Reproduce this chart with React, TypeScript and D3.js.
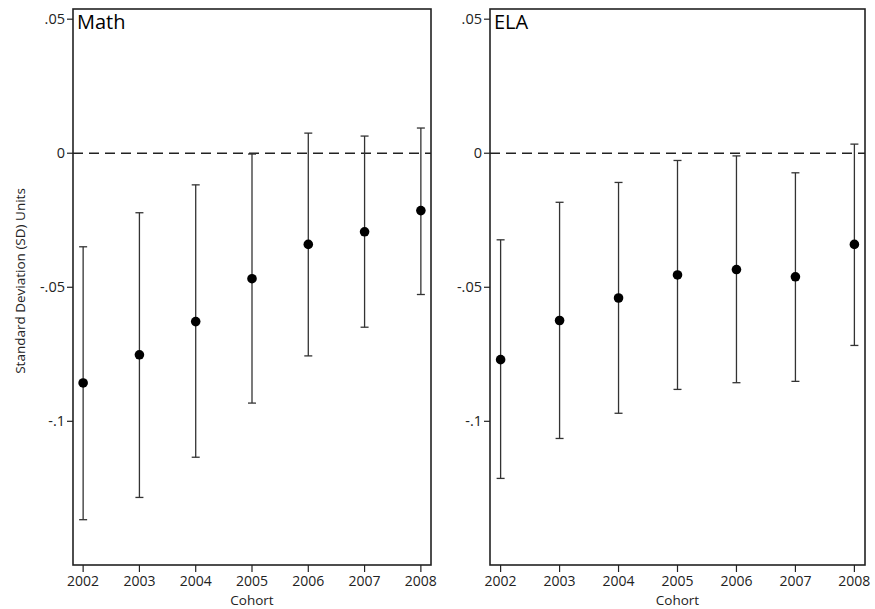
import * as d3 from 'd3';
import React from 'react';

const cohorts = [2002, 2003, 2004, 2005, 2006, 2007, 2008];

const mathEst = [-0.0857, -0.0752, -0.0628, -0.0468, -0.034, -0.0293, -0.0214];
const mathLo = [-0.1367, -0.1284, -0.1134, -0.0932, -0.0756, -0.0649, -0.0527];
const mathHi = [-0.0349, -0.0222, -0.0118, -0.0003, 0.0075, 0.0064, 0.0094];

const elaEst = [-0.077, -0.0624, -0.054, -0.0454, -0.0434, -0.0461, -0.034];
const elaLo = [-0.1213, -0.1064, -0.097, -0.0881, -0.0856, -0.0851, -0.0717];
const elaHi = [-0.0323, -0.0183, -0.0109, -0.0027, -0.001, -0.0073, 0.0034];

const yTicks = [0.05, 0, -0.05, -0.1];
const yTickLabels = ['.05', '0', '-.05', '-.1'];

const FONT = '"Open Sans", "DejaVu Sans", sans-serif';
const INK = '#222';

const W = 875;
const H = 609;
const top = 9;
const bottom = 565;

const y = d3.scaleLinear().domain([-0.1536, 0.0538]).range([bottom, top]);

interface PanelProps {
  title: string;
  left: number;
  right: number;
  est: number[];
  lo: number[];
  hi: number[];
}

const Panel = ({ title, left, right, est, lo, hi }: PanelProps) => {
  const x = d3.scaleLinear().domain([2001.82, 2008.18]).range([left, right]);
  const cap = 4;
  return (
    <g>
      {/* zero reference */}
      <line
        x1={left}
        x2={right}
        y1={y(0)}
        y2={y(0)}
        stroke={INK}
        strokeWidth={1.3}
        strokeDasharray="10,6"
      />
      {cohorts.map((c, i) => (
        <g key={c}>
          <line x1={x(c)} x2={x(c)} y1={y(lo[i])} y2={y(hi[i])} stroke="#333" strokeWidth={1.3} />
          <line x1={x(c) - cap} x2={x(c) + cap} y1={y(lo[i])} y2={y(lo[i])} stroke="#333" strokeWidth={1.3} />
          <line x1={x(c) - cap} x2={x(c) + cap} y1={y(hi[i])} y2={y(hi[i])} stroke="#333" strokeWidth={1.3} />
          <circle cx={x(c)} cy={y(est[i])} r={4.8} fill="#000" />
        </g>
      ))}
      <rect
        x={left}
        y={top}
        width={right - left}
        height={bottom - top}
        fill="none"
        stroke={INK}
        strokeWidth={1.6}
      />
      {/* y axis */}
      {yTicks.map((t, i) => (
        <g key={t}>
          <line x1={left - 6} x2={left} y1={y(t)} y2={y(t)} stroke={INK} strokeWidth={1.2} />
          <text
            x={left - 8}
            y={y(t)}
            dy="0.35em"
            textAnchor="end"
            fontSize={14.5}
            fontFamily={FONT}
            fill={INK}
          >
            {yTickLabels[i]}
          </text>
        </g>
      ))}
      {/* x axis */}
      {cohorts.map((c) => (
        <g key={c}>
          <line x1={x(c)} x2={x(c)} y1={bottom} y2={bottom + 7} stroke={INK} strokeWidth={1.2} />
          <text
            x={x(c)}
            y={bottom + 21}
            textAnchor="middle"
            fontSize={14}
            fontFamily={FONT}
            fill={INK}
          >
            {c}
          </text>
        </g>
      ))}
      <text
        x={x(2005)}
        y={bottom + 40}
        textAnchor="middle"
        fontSize={13.5}
        fontFamily={FONT}
        fill={INK}
      >
        Cohort
      </text>
      <text x={left + 4} y={top + 20} fontSize={20} fontFamily={FONT} fill="#000">
        {title}
      </text>
    </g>
  );
};

const App = () => {
  return (
    <svg
      width={W}
      height={H}
      style={{ position: 'absolute', left: 0, top: 0, background: '#fff' }}
    >
      <rect width={W} height={H} fill="#fff" />
      <text
        transform="translate(25,281) rotate(-90)"
        textAnchor="middle"
        fontSize={13.5}
        fontFamily={FONT}
        fill={INK}
      >
        Standard Deviation (SD) Units
      </text>
      <Panel title="Math" left={73} right={431} est={mathEst} lo={mathLo} hi={mathHi} />
      <Panel title="ELA" left={490} right={865} est={elaEst} lo={elaLo} hi={elaHi} />
    </svg>
  );
};

export default App;
